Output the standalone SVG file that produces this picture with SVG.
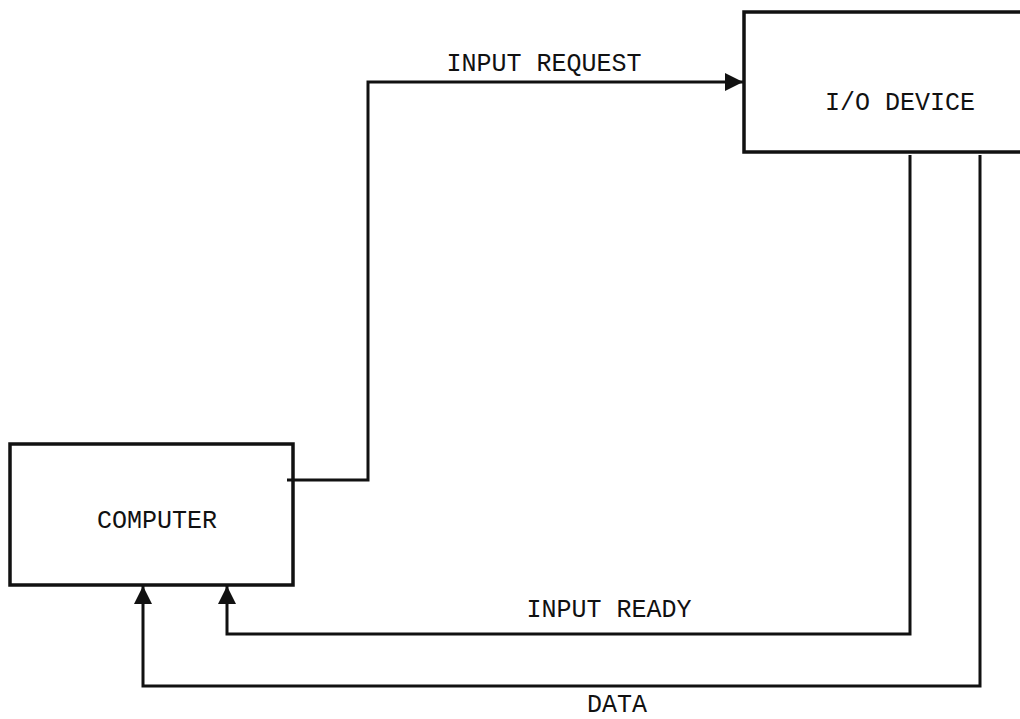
<svg xmlns="http://www.w3.org/2000/svg" width="1020" height="719" viewBox="0 0 1020 719">
<style>
.box{fill:#fff;stroke:#111;stroke-width:3.5}
.ln{fill:none;stroke:#111;stroke-width:3;stroke-linejoin:miter}
.t{font-family:"Liberation Mono","Courier New",monospace;font-size:25px;fill:#111}
</style>
<defs>
<marker id="ah2" viewBox="0 0 10 10" refX="10" refY="5" markerWidth="27" markerHeight="18" orient="auto" markerUnits="userSpaceOnUse">
<path d="M0,0 L10,5 L0,10 z" fill="#111"/>
</marker>
</defs>
<rect width="1020" height="719" fill="#fff"/>
<g id="computer">
<rect class="box" x="10" y="444" width="283" height="141"/>
<text class="t" x="157" y="528" text-anchor="middle">COMPUTER</text>
</g>
<g id="io-device">
<rect class="box" x="744" y="12" width="290" height="140"/>
<text class="t" x="900" y="110" text-anchor="middle">I/O DEVICE</text>
</g>
<g id="connectors">
<path class="ln" d="M287,480 H368 V82 H743" marker-end="url(#ah2)"/>
<path class="ln" d="M910,155 V634 H227 V586" marker-end="url(#ah2)"/>
<path class="ln" d="M980,155 V686 H143 V586" marker-end="url(#ah2)"/>
<text class="t" x="544" y="71" text-anchor="middle">INPUT REQUEST</text>
<text class="t" x="609" y="617" text-anchor="middle">INPUT READY</text>
<text class="t" x="617" y="712" text-anchor="middle">DATA</text>
</g>
</svg>
